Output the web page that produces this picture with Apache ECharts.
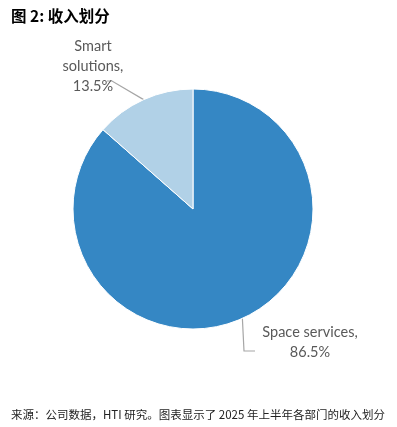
<!DOCTYPE html>
<html>
<head>
<meta charset="utf-8">
<script src="https://cdn.jsdelivr.net/npm/echarts@6/dist/echarts.min.js"></script>
<style>
html,body{margin:0;padding:0;background:#fff;}
#c{width:397px;height:427px;}
</style>
</head>
<body>
<div id="c"></div>
<script>
var categories = ['Space services', 'Smart solutions'];
var values = [86.5, 13.5];
var labelTexts = ['Space services,\n{d}%', 'Smart\nsolutions,\n{d}%'];
var colors = ['#3587C4', '#B1D1E7'];

var chart = echarts.init(document.getElementById('c'));
var data = categories.map(function (n, i) {
  return { name: n, value: values[i], itemStyle: { color: colors[i] }, label: { formatter: labelTexts[i] } };
});
chart.setOption({
  animation: false,
  title: [
    { text: '图 2: 收入划分', left: 6, top: 3,
      textStyle: { fontFamily: 'Noto Sans CJK SC', fontSize: 15.5, fontWeight: 'bold', color: '#000' } },
    { text: '来源：公司数据，HTI 研究。图表显示了 2025 年上半年各部门的收入划分', left: 6, top: 404,
      textStyle: { fontFamily: 'Noto Sans CJK SC', fontSize: 11.5, fontWeight: 'normal', color: '#222' } }
  ],
  series: [{
    type: 'pie',
    center: [193, 209],
    radius: [0, 120],
    startAngle: 90,
    clockwise: true,
    data: data,
    itemStyle: { borderColor: '#fff', borderWidth: 1 },
    label: {
      show: true, color: '#595959', fontFamily: 'Lato', fontSize: 14.5, lineHeight: 20, align: 'center'
    },
    labelLine: { show: true, lineStyle: { color: '#A6A6A6', width: 1.2 } },
    labelLayout: function (p) {
      var a = p.labelLinePoints ? p.labelLinePoints[0] : [0, 0];
      if (p.dataIndex === 1) {
        return { x: 93, y: 66, align: 'center', verticalAlign: 'middle',
          labelLinePoints: [a, [112, 81], [107, 81]] };
      }
      return { x: 310, y: 342, align: 'center', verticalAlign: 'middle',
        labelLinePoints: [a, [244, 351], [255, 351]] };
    }
  }]
});
</script>
</body>
</html>
